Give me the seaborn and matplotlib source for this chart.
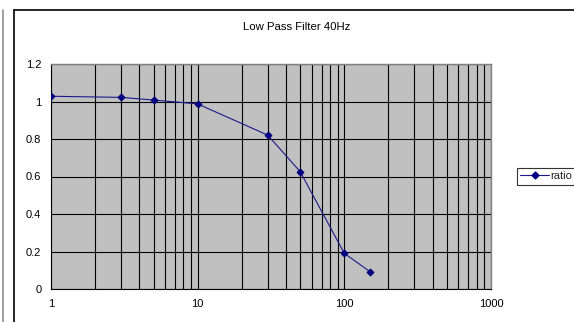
import matplotlib
matplotlib.use("Agg")
import matplotlib.pyplot as plt
from matplotlib.lines import Line2D
from matplotlib.ticker import FixedLocator, FixedFormatter, NullFormatter
import pandas as pd
import seaborn as sns

# values
freq_hz = [1, 3, 5, 10, 30, 50, 100, 150]
ratio = [1.028, 1.022, 1.008, 0.987, 0.821, 0.626, 0.19, 0.092]
y_ticks = [0, 0.2, 0.4, 0.6, 0.8, 1.0, 1.2]
y_labels = ["0", "0.2", "0.4", "0.6", "0.8", "1", "1.2"]
x_ticks = [1, 10, 100, 1000]
x_labels = ["1", "10", "100", "1000"]
title = "Low Pass Filter 40Hz"
series_name = "ratio"


def main():
    sns.set_theme(style="white")
    plt.rcParams["font.family"] = ["Liberation Sans", "DejaVu Sans"]

    df = pd.DataFrame({"freq": freq_hz, "ratio": ratio})

    W, H = 574, 322
    fig = plt.figure(figsize=(W / 100, H / 100), dpi=100)
    fig.patch.set_facecolor("white")

    # plot area in pixels: left 51, right 491, top 64, bottom 289
    ax = fig.add_axes([51 / W, (H - 289) / H, 440 / W, 225 / H])
    ax.set_facecolor("#c0c0c0")

    sns.lineplot(data=df, x="freq", y="ratio", ax=ax, color="#1a1a8c",
                 marker="D", markersize=3.5, markeredgecolor="#000080",
                 markerfacecolor="#000080",
                 linewidth=0.8, label=series_name, legend=False, zorder=5)

    ax.set_xscale("log")
    ax.set_xlim(1, 1000)
    ax.set_ylim(0, 1.2)
    ax.xaxis.set_major_locator(FixedLocator(x_ticks))
    ax.xaxis.set_major_formatter(FixedFormatter(x_labels))
    minors = [m * 10 ** d for d in range(3) for m in range(2, 10)]
    ax.xaxis.set_minor_locator(FixedLocator(minors))
    ax.xaxis.set_minor_formatter(NullFormatter())
    ax.set_yticks(y_ticks)
    ax.set_yticklabels(y_labels)

    ax.grid(True, which="both", axis="x", color="black", linewidth=0.8)
    ax.grid(True, which="major", axis="y", color="black", linewidth=0.8)
    ax.set_axisbelow(True)

    ax.tick_params(axis="both", which="major", labelsize=8, colors="black",
                   length=3, width=0.8, direction="out", pad=4)
    ax.tick_params(axis="x", which="minor", length=0)
    ax.tick_params(axis="x", which="major", pad=4)
    ax.set_xlabel("")
    ax.set_ylabel("")

    for side in ["top", "right"]:
        ax.spines[side].set_color("#808080")
        ax.spines[side].set_linewidth(1)
    for side in ["left", "bottom"]:
        ax.spines[side].set_color("black")
        ax.spines[side].set_linewidth(0.8)

    fig.text(297 / W, 1 - 27 / H, title, ha="center", va="center",
             fontsize=8.2, color="black")

    # chart frames
    fig.add_artist(Line2D([14 / W, 14 / W], [0, 1 - 10 / H], color="black",
                          linewidth=1.2, transform=fig.transFigure))
    fig.add_artist(Line2D([14 / W, 1], [1 - 10 / H, 1 - 10 / H], color="black",
                          linewidth=1.2, transform=fig.transFigure))
    fig.add_artist(Line2D([3 / W, 3 / W], [0, 1 - 10 / H], color="#909090",
                          linewidth=1.2, transform=fig.transFigure))

    # legend (its frame runs off the right edge in the reference)
    handle = Line2D([], [], color="#1a1a8c", marker="D", markersize=3.5,
                    markerfacecolor="#000080", markeredgecolor="#000080",
                    linewidth=0.8)
    leg = fig.legend([handle], [series_name], loc="upper left",
                     bbox_to_anchor=(517 / W, 1 - 168 / H), fontsize=8,
                     frameon=True, fancybox=False, handlelength=2.6,
                     handletextpad=0.1, borderpad=0.3, borderaxespad=0)
    leg.get_frame().set_edgecolor("black")
    leg.get_frame().set_linewidth(0.8)

    fig.savefig("out.png", dpi=100)


if __name__ == "__main__":
    main()
